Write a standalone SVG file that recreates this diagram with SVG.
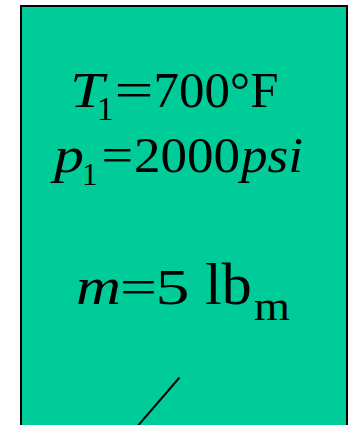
<svg xmlns="http://www.w3.org/2000/svg" width="353" height="425" viewBox="0 0 353 425">
<style>
.t{font-family:"Liberation Serif","Times New Roman",serif;fill:#000}
.i{font-style:italic}
</style>
<rect width="353" height="425" fill="#fff"/>
<g id="vessel">
<rect x="21" y="6" width="326" height="440" fill="#00CC99" stroke="#000" stroke-width="2"/>
</g>
<g id="label-T1">
<text class="t i" x="70" y="107" font-size="50" textLength="34" lengthAdjust="spacingAndGlyphs">T</text>
<text class="t" x="97" y="120" font-size="33">1</text>
<text class="t" x="114.6" y="107" font-size="50" textLength="39" lengthAdjust="spacingAndGlyphs">=</text>
<text class="t" x="153.5" y="106.5" font-size="50" textLength="125" lengthAdjust="spacingAndGlyphs">700°F</text>
</g>
<g id="label-p1">
<text class="t i" x="54" y="172" font-size="50" textLength="30" lengthAdjust="spacingAndGlyphs">p</text>
<text class="t" x="82" y="185" font-size="31">1</text>
<text class="t" x="101.6" y="172" font-size="50" textLength="31.7" lengthAdjust="spacingAndGlyphs">=</text>
<text class="t" x="134" y="172" font-size="50" textLength="106" lengthAdjust="spacingAndGlyphs">2000</text>
<text class="t i" x="241" y="172" font-size="50" textLength="62" lengthAdjust="spacingAndGlyphs">psi</text>
</g>
<g id="label-m">
<text class="t i" x="76" y="303.5" font-size="52" textLength="45" lengthAdjust="spacingAndGlyphs">m</text>
<text class="t" x="120" y="303.5" font-size="50" textLength="37" lengthAdjust="spacingAndGlyphs">=</text>
<text class="t" x="155.5" y="303.5" font-size="50" textLength="34" lengthAdjust="spacingAndGlyphs">5</text>
<text class="t" x="205" y="303.5" font-size="60">lb</text>
<text class="t" x="254" y="320" font-size="40" textLength="36" lengthAdjust="spacingAndGlyphs">m</text>
</g>
<g id="connectors">
<line x1="179.5" y1="377.5" x2="136" y2="428" stroke="#000" stroke-width="2"/>
</g>
</svg>
